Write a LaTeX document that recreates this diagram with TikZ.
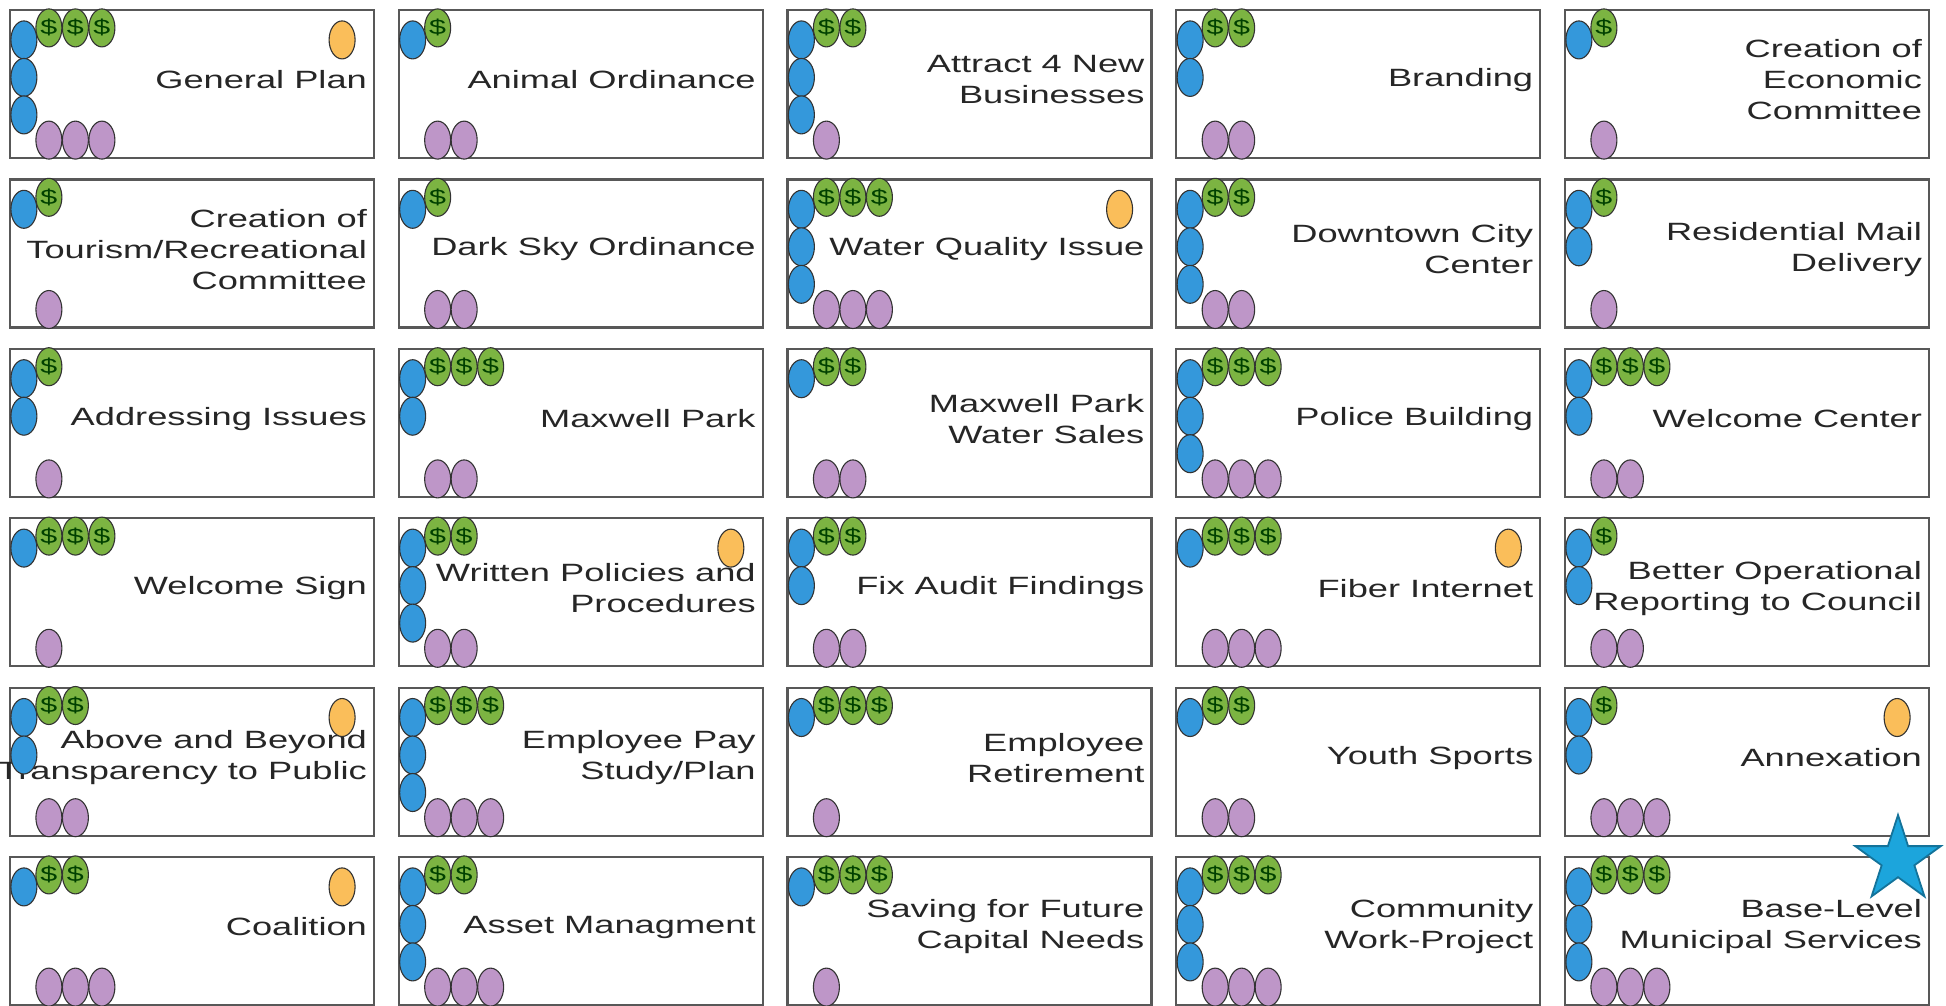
\documentclass[tikz,border=0pt]{standalone}
\usepackage{fontspec}
\setmainfont{Liberation Sans}
\newfontfamily\cardfont[FakeStretch=1.45]{Liberation Sans}
\usepackage{tikz}
\usetikzlibrary{shapes.geometric,positioning}
\definecolor{boxgray}{RGB}{88,88,88}
\definecolor{cblue}{RGB}{52,152,219}
\definecolor{cgreen}{RGB}{124,180,66}
\definecolor{cpurple}{RGB}{190,150,200}
\definecolor{corange}{RGB}{250,190,90}
\definecolor{cstar}{RGB}{28,165,220}
\tikzset{
  card/.style={draw=boxgray, line width=2.2pt, minimum width=364pt, minimum height=148pt, inner sep=0pt},
  cardtext/.style={anchor=east, align=right, inner sep=0pt, text=black!85, font=\cardfont\fontsize{25}{31}\selectfont},
  dot/.style={ellipse, draw=black!80, line width=1.1pt, minimum width=26pt, minimum height=38pt, inner sep=0pt},
  staff/.style={dot, fill=cblue},
  money/.style={dot, fill=cgreen, text=green!25!black, font=\cardfont\fontsize{21}{21}\selectfont},
  people/.style={dot, fill=cpurple},
  flag/.style={dot, fill=corange}
}

\begin{document}
\begin{tikzpicture}[x=1pt,y=-1pt]
\useasboundingbox (0,0) rectangle (1946,1005);
\foreach \n/\c/\r/\t/\b/\g/\p/\o in {
  1/0/0/General Plan/3/3/3/1, 2/1/0/Animal Ordinance/1/1/2/0,
  3/2/0/{Attract 4 New\\Businesses}/3/2/1/0, 4/3/0/Branding/2/2/2/0,
  5/4/0/{Creation of\\Economic\\Committee}/1/1/1/0,
  6/0/1/{Creation of\\Tourism/Recreational\\Committee}/1/1/1/0,
  7/1/1/Dark Sky Ordinance/1/1/2/0, 8/2/1/Water Quality Issue/3/3/3/1,
  9/3/1/{Downtown City\\Center}/3/2/2/0, 10/4/1/{Residential Mail\\Delivery}/2/1/1/0,
  11/0/2/Addressing Issues/2/1/1/0, 12/1/2/Maxwell Park/2/3/2/0,
  13/2/2/{Maxwell Park\\Water Sales}/1/2/2/0, 14/3/2/Police Building/3/3/3/0,
  15/4/2/Welcome Center/2/3/2/0,
  16/0/3/Welcome Sign/1/3/1/0, 17/1/3/{Written Policies and\\Procedures}/3/2/2/1,
  18/2/3/Fix Audit Findings/2/2/2/0, 19/3/3/Fiber Internet/1/3/3/1,
  20/4/3/{Better Operational\\Reporting to Council}/2/1/2/0,
  21/0/4/{Above and Beyond\\Transparency to Public}/2/2/2/1,
  22/1/4/{Employee Pay\\Study/Plan}/3/3/3/0, 23/2/4/{Employee\\Retirement}/1/3/1/0,
  24/3/4/Youth Sports/1/2/2/0, 25/4/4/Annexation/2/1/3/1,
  26/0/5/Coalition/1/2/3/1, 27/1/5/Asset Managment/3/2/3/0,
  28/2/5/{Saving for Future\\Capital Needs}/1/3/1/0,
  29/3/5/{Community\\Work-Project}/3/3/3/0,
  30/4/5/{Base-Level\\Municipal Services}/3/3/3/0} {
  \node[card] (card\n) at ({192+388.75*\c},{84+169.4*\r}) {};
  \node[cardtext] (text\n) at ([xshift=-8pt,yshift=4pt]card\n.east) {\t};
  \foreach \i in {1,...,\b}
    \node[staff] (card\n-b\i) at ([shift={(15,{31+37.5*(\i-1)})}]card\n.north west) {};
  \foreach \i in {1,...,\g}
    \node[money] (card\n-g\i) at ([shift={({40+26.5*(\i-1)},19)}]card\n.north west) {\$};
  \foreach \i in {1,...,\p}
    \node[people] (card\n-p\i) at ([shift={({40+26.5*(\i-1)},-19)}]card\n.south west) {};
  \ifnum\o=1 \node[flag] (card\n-o) at ([shift={(-33,31)}]card\n.north east) {};\fi
}
\node[star, star points=5, star point ratio=2.618, minimum size=90pt, inner sep=0pt,
  fill=cstar, draw=cstar!70!black, line width=1.8pt] (best) at (1898,860) {};
\end{tikzpicture}
\end{document}
